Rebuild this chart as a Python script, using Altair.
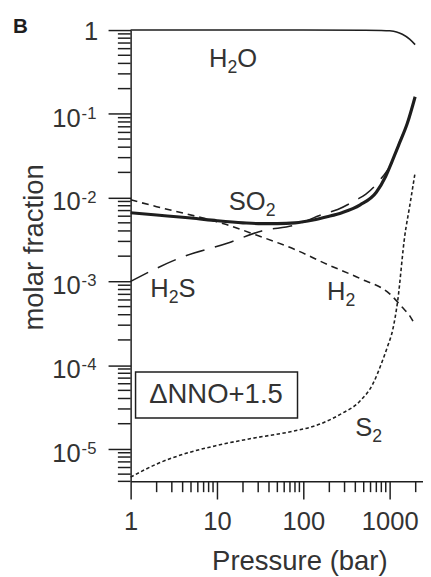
import altair as alt
import pandas as pd

# ---------------- data ----------------
h2o_p = [1, 100, 500, 800, 1000, 1200, 1400, 1700, 1970]
h2o_v = [1.0, 1.0, 0.995, 0.99, 0.98, 0.95, 0.89, 0.78, 0.67]

so2_p = [1, 2, 3.4, 5, 10, 20, 30, 50, 80, 130, 188, 280, 455, 700, 900, 1080, 1290, 1600, 1970]
so2_v = [0.0066, 0.0062, 0.0059, 0.0057, 0.0053, 0.0050, 0.0049, 0.0049, 0.0050, 0.0054,
         0.0059, 0.0066, 0.0082, 0.0116, 0.018, 0.028, 0.044, 0.077, 0.16]

h2s_p = [1, 3.7, 13.7, 33, 80, 174, 250, 410, 530, 800, 1080, 1290, 1600, 1970]
h2s_v = [0.0010, 0.0019, 0.0029, 0.0040, 0.0047, 0.0064, 0.0072, 0.0094, 0.011, 0.017,
         0.027, 0.045, 0.078, 0.16]

h2_p = [1, 2, 4.4, 12.6, 28, 80, 188, 455, 1000, 1400, 1700, 1970]
h2_v = [0.0094, 0.0078, 0.0064, 0.0048, 0.0036, 0.0024, 0.0016, 0.00108, 0.00071, 0.00049,
        0.00039, 0.0003]

s2_p = [1, 2, 4.8, 10, 28, 66, 160, 270, 450, 640, 830, 950, 1080, 1230, 1500, 1700, 1970]
s2_v = [4.6e-6, 6.6e-6, 9.1e-6, 1.1e-5, 1.36e-5, 1.58e-5, 2.0e-5, 2.6e-5, 3.7e-5, 6.0e-5,
        1.15e-4, 1.7e-4, 2.6e-4, 5.6e-4, 3.6e-3, 7.8e-3, 0.02]

# species labels: text pieces (text, is_subscript), anchor pressure, anchor fraction
lab_parts = [
    [("H", 0), ("2", 1), ("O", 0)],
    [("SO", 0), ("2", 1)],
    [("H", 0), ("2", 1), ("S", 0)],
    [("H", 0), ("2", 1)],
    [("S", 0), ("2", 1)],
]
lab_p = [8.1, 13.7, 1.69, 188, 400]
lab_v = [0.359, 0.00716, 0.000648, 0.000597, 1.44e-5]

# annotation box
box_text = ["\u0394NNO+1.5"]
box_p = [1.14, 85.6]
box_v = [8.3e-5, 2.34e-5]
box_text_p = [1.64]
box_text_v = [3.5e-5]

# axis ticks
x_major = [1, 10, 100, 1000]
x_minor = [2, 3, 4, 5, 6, 7, 8, 9, 20, 30, 40, 50, 60, 70, 80, 90,
           200, 300, 400, 500, 600, 700, 800, 900, 2000]
y_major = [1e-5, 1e-4, 1e-3, 1e-2, 1e-1, 1]
y_exp_vals = [1e-1, 1e-2, 1e-3, 1e-4, 1e-5]
y_exp_text = ["-1", "-2", "-3", "-4", "-5"]
y_minor = [m * d for d in [1e-6, 1e-5, 1e-4, 1e-3, 1e-2, 1e-1] for m in range(2, 10)
           if 4.1e-6 <= m * d < 1]

X_DOM = [1, 2430]
Y_DOM = [4.1e-6, 1]
W, H = 298, 460
FONT = "Liberation Sans"
INK = "#1e1e1e"
TXT = "#333333"
MAIN, SUB = 26, 18
ADV = {"H": 0.722, "O": 0.778, "S": 0.667, "2": 0.556}

xs = alt.Scale(type="log", domain=X_DOM, nice=False)
ys = alt.Scale(type="log", domain=Y_DOM, nice=False)

XA = alt.Axis(values=x_major, format="d", tickSize=18, tickWidth=1.5, tickColor=INK,
              domainColor=INK, domainWidth=1.5, grid=False,
              labelFont=FONT, labelFontSize=26, labelColor=TXT, labelPadding=31,
              labelBaseline="alphabetic", labelFlush=False, labelOverlap=False,
              title="Pressure (bar)", titleFont=FONT, titleFontSize=28,
              titleFontWeight="normal", titleColor=TXT, titleX=172, titleY=90,
              titleBaseline="alphabetic", titleAlign="center")
YA = alt.Axis(values=y_major, labels=False, tickSize=23, tickWidth=1.5, tickColor=INK,
              domainColor=INK, domainWidth=1.5, grid=False,
              title="molar fraction", titleFont=FONT, titleFontSize=28,
              titleFontWeight="normal", titleColor=TXT, titleX=-90, titleY=221,
              titleBaseline="alphabetic", titleAlign="center", titleAngle=270)


def X(field="p"):
    return alt.X(f"{field}:Q", scale=xs, axis=XA)


def Y(field="v"):
    return alt.Y(f"{field}:Q", scale=ys, axis=YA)


def curve(p, v, width, dash=None):
    df = pd.DataFrame({"p": p, "v": v})
    kw = dict(color=INK, strokeWidth=width, interpolate="monotone")
    if dash:
        kw["strokeDash"] = dash
    return alt.Chart(df).mark_line(**kw).encode(x=X(), y=Y())


h2o = curve(h2o_p, h2o_v, 1.6)
so2 = curve(so2_p, so2_v, 3.2)
h2s = curve(h2s_p, h2s_v, 1.6, dash=[20, 11])
h2 = curve(h2_p, h2_v, 1.6, dash=[7, 5])
s2 = curve(s2_p, s2_v, 1.6, dash=[3.5, 2.5])

# minor ticks
ymin_df = pd.DataFrame({"v": y_minor + [Y_DOM[0]]})
y_minor_ticks = alt.Chart(ymin_df).mark_rule(color=INK, strokeWidth=1.5).encode(
    y=Y(), x=alt.value(-13), x2=alt.value(0))
xmin_df = pd.DataFrame({"p": x_minor})
x_minor_ticks = alt.Chart(xmin_df).mark_rule(color=INK, strokeWidth=1.5).encode(
    x=X(), y=alt.value(H), y2=alt.value(H + 11))

# y tick labels 10^n
yl_df = pd.DataFrame({"v": y_exp_vals, "e": y_exp_text})
y_base = alt.Chart(yl_df).mark_text(align="right", baseline="alphabetic", dy=13, font=FONT,
                                    fontSize=26, color=TXT).encode(
    y=Y(), x=alt.value(-51), text=alt.value("10"))
y_exp = alt.Chart(yl_df).mark_text(align="left", baseline="alphabetic", dy=5, font=FONT,
                                   fontSize=17, color=TXT).encode(
    y=Y(), x=alt.value(-50), text="e:N")
y_one = alt.Chart(pd.DataFrame({"v": [1], "t": ["1"]})).mark_text(
    align="right", baseline="alphabetic", dy=10, font=FONT, fontSize=26, color=TXT).encode(
    y=Y(), x=alt.value(-33), text="t:N")


# species labels, built piece by piece so subscripts sit low and small
def species_label(parts, p, v):
    layers = []
    dx = 0.0
    for text, sub in parts:
        size = SUB if sub else MAIN
        df = pd.DataFrame({"p": [p], "v": [v], "t": [text]})
        layers.append(alt.Chart(df).mark_text(
            align="left", baseline="alphabetic", font=FONT, fontSize=size, color=TXT,
            dx=dx, dy=6 if sub else 0).encode(x=X(), y=Y(), text="t:N"))
        dx += sum(ADV[c] for c in text) * size
    return layers


label_layers = []
for parts, p, v in zip(lab_parts, lab_p, lab_v):
    label_layers += species_label(parts, p, v)

# annotation box
box_df = pd.DataFrame({"p": [box_p[0]], "p2": [box_p[1]], "v": [box_v[0]], "v2": [box_v[1]]})
box = alt.Chart(box_df).mark_rect(fill="white", stroke=INK, strokeWidth=1.5).encode(
    x=X(), x2="p2:Q", y=Y(), y2="v2:Q")
box_lab = alt.Chart(pd.DataFrame({"p": box_text_p, "v": box_text_v, "t": box_text})).mark_text(
    align="left", baseline="alphabetic", font=FONT, fontSize=28, color=TXT).encode(
    x=X(), y=Y(), text="t:N")

panel = alt.Chart(pd.DataFrame({"t": ["B"]})).mark_text(
    align="left", baseline="alphabetic", font=FONT, fontSize=21, fontWeight="bold",
    color=INK).encode(x=alt.value(-120), y=alt.value(3), text="t:N")

chart = alt.layer(
    h2o, y_minor_ticks, x_minor_ticks, so2, h2s, h2, s2, box, box_lab, *label_layers,
    y_base, y_exp, y_one, panel
).properties(
    width=W, height=H,
    padding={"left": 125, "top": 17, "right": 0, "bottom": 92},
    autosize=alt.AutoSizeParams(type="none"),
    background="white",
).configure_view(stroke=None)

chart.save("out.html", embed_options={"renderer": "svg", "actions": False})
